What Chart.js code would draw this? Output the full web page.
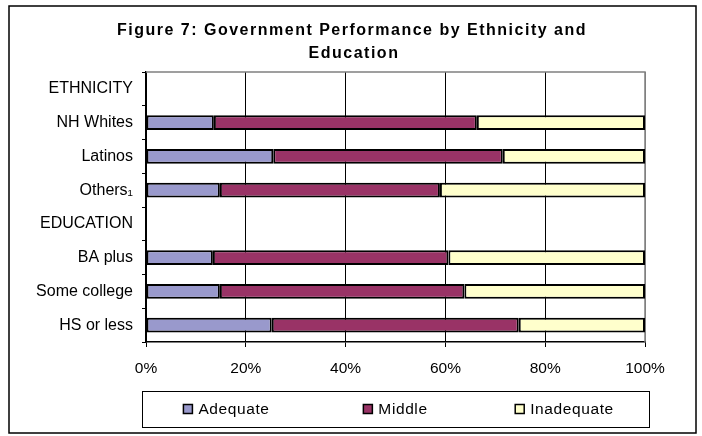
<!DOCTYPE html>
<html>
<head>
<meta charset="utf-8">
<script src="https://cdn.jsdelivr.net/npm/chart.js@4/dist/chart.umd.min.js"></script>
<style>
  html, body { margin: 0; padding: 0; background: #fff; }
  #wrap { width: 702px; height: 436px; }
</style>
</head>
<body>
<div id="wrap"><canvas id="perf-chart"></canvas></div>
<script>
const categories = ['ETHNICITY', 'NH Whites', 'Latinos', 'Others\u2081', 'EDUCATION', 'BA plus', 'Some college', 'HS or less'];
const adequate   = [null, 13.6, 25.5, 14.8, null, 13.4, 14.8, 25.2];
const middle     = [null, 52.7, 46.0, 44.1, null, 47.2, 49.0, 49.5];
const inadequate = [null, 33.7, 28.5, 41.1, null, 39.4, 36.2, 25.3];
const xTicks = [0, 20, 40, 60, 80, 100];
const titleLines = ['Figure 7: Government Performance by Ethnicity and', 'Education'];

const FONT = '"Liberation Sans", Arial, sans-serif';

// title, outer frame, plot border and legend box
const framePlugin = {
  id: 'frame',
  beforeDatasetsDraw(chart) {
    const a = chart.chartArea;
    const ctx = chart.ctx;
    ctx.save();
    ctx.strokeStyle = '#808080';
    ctx.lineWidth = 1.5;
    ctx.beginPath();
    ctx.moveTo(a.left, a.top);
    ctx.lineTo(a.right, a.top);
    ctx.lineTo(a.right, a.bottom);
    ctx.stroke();
    ctx.restore();
  },
  afterDraw(chart) {
    const ctx = chart.ctx;
    ctx.save();
    ctx.strokeStyle = '#000';
    ctx.lineWidth = 1.5;
    ctx.strokeRect(9, 6, 687, 427);

    ctx.fillStyle = '#000';
    ctx.font = 'bold 16px ' + FONT;
    ctx.letterSpacing = '1.5px';
    ctx.textAlign = 'center';
    ctx.textBaseline = 'middle';
    ctx.fillText(titleLines[0], 352, 31);
    ctx.fillText(titleLines[1], 354, 54);
    ctx.letterSpacing = '0.6px';

    // legend
    const lx = 142, ly = 391, lw = 507, lh = 36;
    ctx.lineWidth = 1;
    ctx.strokeRect(lx + 0.5, ly + 0.5, lw, lh);
    ctx.font = '15.5px ' + FONT;
    ctx.textAlign = 'left';
    const third = lw / 3;
    chart.data.datasets.forEach((ds, i) => {
      const tw = ctx.measureText(ds.label).width;
      const itemW = 9 + 6 + tw;
      const x0 = lx + third * i + (third - itemW) / 2;
      const cy = ly + lh / 2;
      ctx.fillStyle = ds.backgroundColor;
      ctx.fillRect(x0, cy - 4.5, 9, 9);
      ctx.strokeStyle = '#000';
      ctx.lineWidth = 1.5;
      ctx.strokeRect(x0, cy - 4.5, 9, 9);
      ctx.fillStyle = '#000';
      ctx.fillText(ds.label, x0 + 15, cy + 1);
    });
    ctx.restore();
  }
};

const ctx = document.getElementById('perf-chart').getContext('2d');
const perfChart = new Chart(ctx, {
  type: 'bar',
  data: {
    labels: categories,
    datasets: [
      { label: 'Adequate', data: adequate, backgroundColor: '#9999CC' },
      { label: 'Middle', data: middle, backgroundColor: '#993366' },
      { label: 'Inadequate', data: inadequate, backgroundColor: '#FFFFCC' }
    ]
  },
  options: {
    indexAxis: 'y',
    responsive: true,
    maintainAspectRatio: false,
    animation: false,
    datasets: {
      bar: {
        borderColor: '#000',
        borderWidth: 2,
        borderSkipped: false,
        categoryPercentage: 1,
        barPercentage: 0.43
      }
    },
    layout: { padding: { top: 72, right: 57, bottom: 54, left: 0 } },
    plugins: {
      legend: { display: false },
      title: { display: false },
      tooltip: { enabled: false }
    },
    scales: {
      x: {
        stacked: true,
        min: 0,
        max: 100,
        afterBuildTicks(scale) { scale.ticks = xTicks.map(v => ({ value: v })); },
        afterFit(scale) { scale.height = 40; },
        ticks: {
          color: '#000',
          font: { family: FONT, size: 15.5 },
          padding: 12,
          callback: v => v + '%'
        },
        grid: {
          color: c => (c.tick && c.tick.value === 100 ? '#808080' : '#000'),
          tickColor: '#000',
          tickLength: 5,
          lineWidth: 1
        },
        border: { color: '#000', width: 1.5 }
      },
      y: {
        stacked: true,
        afterFit(scale) { scale.width = 146; },
        ticks: {
          color: '#000',
          font: { family: FONT, size: 16 },
          padding: 9
        },
        grid: {
          offset: true,
          drawOnChartArea: false,
          tickColor: '#000',
          tickLength: 4
        },
        border: { color: '#000', width: 1.5 }
      }
    }
  },
  plugins: [framePlugin]
});
</script>
</body>
</html>
